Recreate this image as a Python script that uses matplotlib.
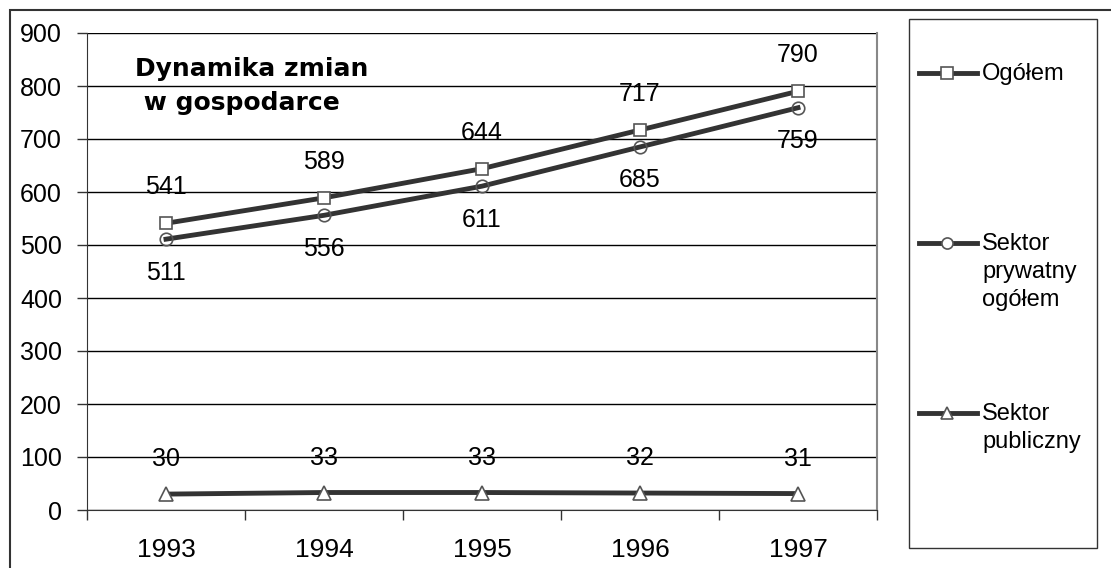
import matplotlib
matplotlib.use("Agg")
import matplotlib.pyplot as plt
from matplotlib.lines import Line2D
from matplotlib.patches import Rectangle

years = ["1993", "1994", "1995", "1996", "1997"]
ogolem = [541, 589, 644, 717, 790]
prywatny = [511, 556, 611, 685, 759]
publiczny = [30, 33, 33, 32, 31]
series_names = ["Ogółem", "Sektor\nprywatny\nogółem", "Sektor\npubliczny"]
yticks = [0, 100, 200, 300, 400, 500, 600, 700, 800, 900]
title = "Dynamika zmian\n w gospodarce"

plt.rcParams['font.family'] = ['Liberation Sans', 'DejaVu Sans']
W, H = 1111, 568
fig = plt.figure(figsize=(W / 100, H / 100), dpi=100)
fig.patch.set_facecolor("white")

# outer chart border
fig.add_artist(Rectangle((10 / W, -0.1), 1.2, 1 - 10 / H + 0.1, transform=fig.transFigure,
                         fill=False, edgecolor="#333333", linewidth=1.5))

L, R, T, B = 87, 877, 33, 510
ax = fig.add_axes([L / W, 1 - B / H, (R - L) / W, (B - T) / H])
x = list(range(len(years)))
line_color = "#333333"
edge = "#555555"
lw = 3.5

ax.plot(x, ogolem, color=line_color, lw=lw, marker="s", ms=9, mfc="white", mec=edge, mew=1.2, zorder=3)
ax.plot(x, prywatny, color=line_color, lw=lw, marker="o", ms=9, mfc="none", mec=edge, mew=1.2, zorder=3)
ax.plot(x, publiczny, color=line_color, lw=lw, marker="^", ms=10, mfc="white", mec=edge, mew=1.2, zorder=3)

fs = 18
for xi, v in zip(x, ogolem):
    ax.annotate(str(v), (xi, v), xytext=(0, 26), textcoords="offset points", ha="center", va="center", fontsize=fs)
for xi, v in zip(x, prywatny):
    ax.annotate(str(v), (xi, v), xytext=(0, -24), textcoords="offset points", ha="center", va="center", fontsize=fs)
for xi, v in zip(x, publiczny):
    ax.annotate(str(v), (xi, v), xytext=(0, 25), textcoords="offset points", ha="center", va="center", fontsize=fs)

ax.set_xlim(-0.5, len(years) - 0.5)
ax.set_ylim(0, 900)
ax.set_yticks(yticks)
ax.set_yticklabels([str(t) for t in yticks], fontsize=fs)
ax.tick_params(axis="y", direction="out", length=7, width=1, pad=11, color="#333333")
ax.set_xticks(x)
ax.set_xticklabels(years, fontsize=19)
ax.tick_params(axis="x", which="major", length=0, pad=20)
ax.set_xticks([i - 0.5 for i in range(len(years) + 1)], minor=True)
ax.tick_params(axis="x", which="minor", direction="out", length=7, width=1, color="#333333")
ax.grid(axis="y", color="black", linewidth=1)
ax.set_axisbelow(True)
ax.spines["top"].set_visible(False)
ax.spines["right"].set_color("#888888")
ax.spines["right"].set_linewidth(1.5)
ax.spines["left"].set_color("#333333")
ax.spines["bottom"].set_color("#333333")

ax.text((135 - L) / (R - L), 1 - (57 - T) / (B - T), title, transform=ax.transAxes, fontsize=18,
        fontweight="bold", family=["DejaVu Sans"], ha="left", va="top", linespacing=1.55)

# legend
fig.add_artist(Rectangle((909 / W, 1 - 548 / H), (1097 - 909) / W, (548 - 19) / H, transform=fig.transFigure,
                         fill=False, edgecolor="#333333", linewidth=1))
entries = [("s", 73, series_names[0], 9), ("o", 243, series_names[1], 8), ("^", 413, series_names[2], 9)]
for mk, yy, name, ms in entries:
    yf = 1 - yy / H
    fig.add_artist(Line2D([919 / W, 977 / W], [yf, yf], transform=fig.transFigure, color=line_color, lw=lw))
    fig.add_artist(Line2D([947 / W], [yf], transform=fig.transFigure, marker=mk, ms=ms,
                          mfc="white", mec=edge, mew=1.2, color=line_color))
    fig.text(982 / W, yf + 10 / H, name, fontsize=17, ha="left", va="top", linespacing=1.35)

fig.savefig("out.png", dpi=100, facecolor="white")
